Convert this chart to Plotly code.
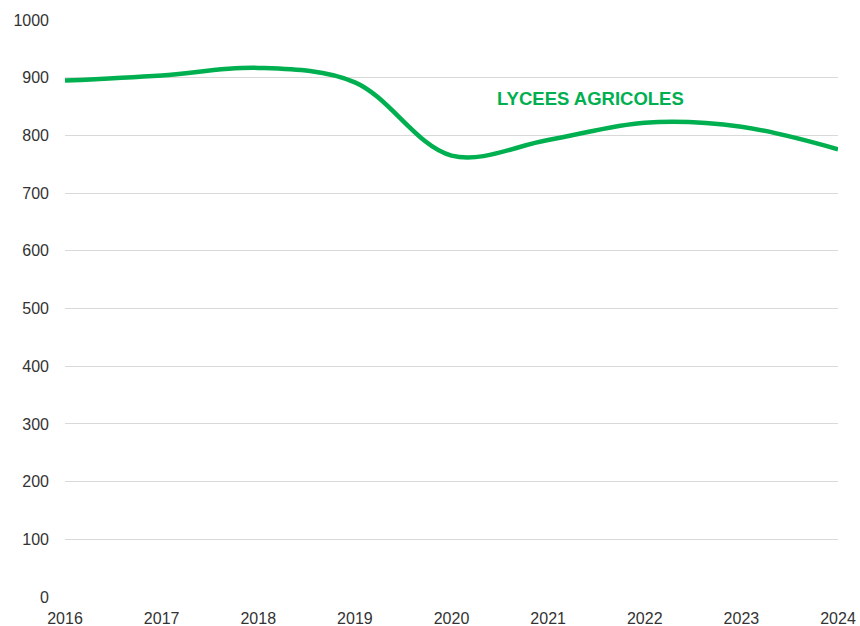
import plotly.graph_objects as go

years = [2016, 2017, 2018, 2019, 2020, 2021, 2022, 2023, 2024]
lycees_agricoles = [895, 904, 917, 892, 765, 792, 822, 815, 776]
y_ticks = [0, 100, 200, 300, 400, 500, 600, 700, 800, 900, 1000]
series_label = "LYCEES AGRICOLES"

green = "#00b050"
font_family = "Liberation Sans, Arial, sans-serif"

fig = go.Figure()
fig.add_trace(go.Scatter(
    x=years, y=lycees_agricoles, mode="lines",
    line=dict(color=green, width=4.5, shape="spline", smoothing=1.0),
    showlegend=False, hoverinfo="x+y",
))

fig.add_annotation(
    x=2021.44, y=864, text=f"<b>{series_label}</b>", showarrow=False,
    font=dict(family=font_family, size=18.5, color=green),
    xanchor="center", yanchor="middle",
)

fig.update_layout(
    width=860, height=626,
    margin=dict(l=65, r=22, t=20, b=29),
    plot_bgcolor="white", paper_bgcolor="white",
    font=dict(family=font_family, size=16, color="#333333"),
    xaxis=dict(
        range=[2016, 2024], tickvals=years, ticktext=[str(y) for y in years],
        showgrid=False, zeroline=False, showline=False, ticks="",
        tickfont=dict(size=16, color="#333333"), ticklabelstandoff=10,
        automargin=False, fixedrange=True,
    ),
    yaxis=dict(
        range=[0, 1000], tickvals=y_ticks, showgrid=True, gridcolor="#d9d9d9",
        gridwidth=1, zeroline=False, showline=False, ticks="",
        tickfont=dict(size=16, color="#333333"), ticklabelstandoff=15,
        automargin=False,
    ),
)

fig.write_html("out.html")
